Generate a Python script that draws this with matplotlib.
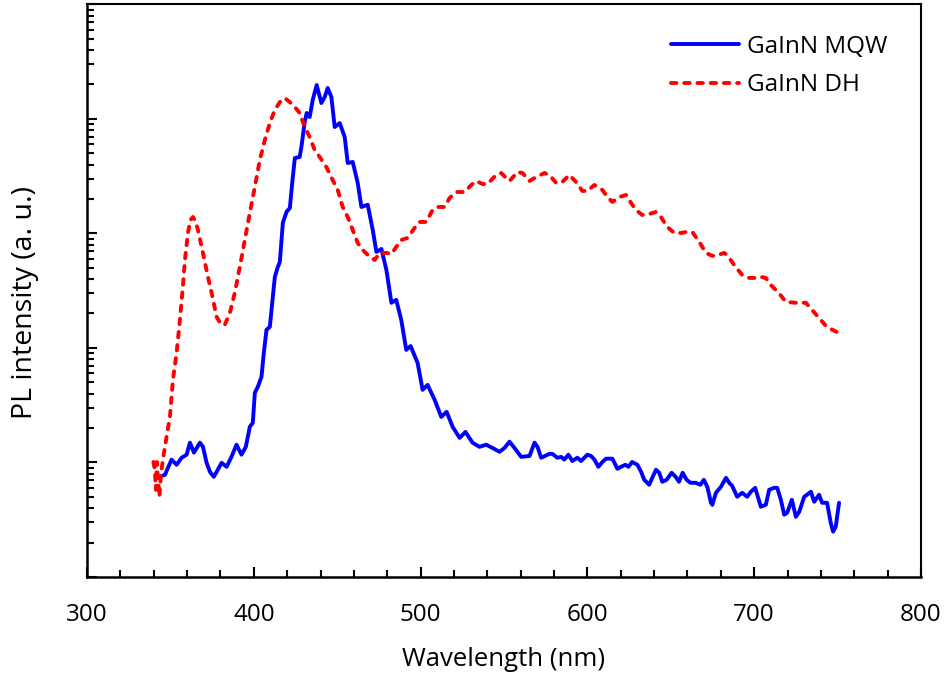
import numpy as np
import matplotlib
matplotlib.use("Agg")
import matplotlib.pyplot as plt
from matplotlib.ticker import LogLocator, MultipleLocator, NullFormatter

plt.rcParams['font.family'] = ['Open Sans', 'DejaVu Sans']

# GaInN MQW photoluminescence spectrum (wavelength in nm, intensity in a. u.)
mqw_wl = [344.1, 346.7, 350.7, 353.7, 356.7, 359.7, 361.7, 364.1, 367.7, 369.5,
          371.7, 373.7, 376.0, 378.4, 380.7, 383.7, 386.6, 389.6, 392.6, 395.2,
          397.6, 399.4, 400.6, 402.4, 404.6, 406.0, 407.6, 409.6, 410.6, 412.6,
          414.4, 415.6, 417.4, 419.6, 421.6, 423.2, 424.6, 427.5, 428.7, 430.5,
          431.7, 433.5, 435.3, 437.7, 440.5, 442.5, 444.3, 446.5, 448.5, 451.5,
          454.5, 456.3, 459.3, 462.3, 464.5, 468.3, 471.3, 473.5, 476.5, 479.5,
          482.5, 485.4, 488.4, 491.4, 494.0, 498.2, 501.2, 504.2, 508.4, 512.4,
          515.6, 519.2, 523.4, 526.9, 531.1, 535.3, 539.3, 543.1, 547.3, 550.3,
          553.3, 556.3, 560.3, 565.3, 568.3, 570.1, 572.3, 577.2, 579.0, 582.0,
          584.3, 586.2, 588.6, 591.0, 594.0, 596.2, 600.0, 602.2, 604.2, 606.6,
          609.0, 611.2, 615.0, 618.0, 620.2, 622.8, 624.6, 626.8, 630.0, 632.2,
          634.1, 637.1, 638.9, 641.1, 643.1, 644.9, 647.5, 650.5, 652.9, 654.9,
          657.1, 659.5, 661.8, 664.8, 667.8, 669.8, 671.9, 674.1, 674.9, 677.1,
          680.1, 683.1, 685.0, 686.8, 689.8, 692.8, 695.8, 698.0, 700.6, 704.0,
          707.0, 709.0, 712.0, 713.8, 716.0, 718.0, 719.8, 722.6, 725.0, 727.0,
          730.0, 731.7, 734.0, 736.0, 738.9, 740.7, 743.7, 745.9, 747.3, 748.9,
          750.9]
mqw_int = [7.55, 7.81, 10.6, 9.55, 11.0, 11.7, 14.9, 12.2, 14.9, 13.7,
           9.94, 8.29, 7.50, 8.64, 9.94, 9.17, 11.2, 14.3, 11.7, 13.7,
           20.5, 22.2, 40.6, 45.8, 56.0, 90.6, 144, 153, 215, 417,
           510, 564, 1236, 1540, 1668, 2930, 4560, 4650, 5920, 9400,
           11270, 10400, 14620, 19770, 13770, 15520, 18620, 15520, 8500, 9200,
           6950, 4120, 4210, 2760, 1703, 1780, 1074, 690, 732, 480,
           248, 263, 176, 96.2, 104, 74.1, 43.1, 47.6, 35.3, 25.0,
           27.7, 20.5, 16.4, 18.5, 14.9, 13.7, 14.3, 13.4, 12.4, 13.4,
           15.2, 13.4, 11.2, 11.4, 14.9, 13.7, 11.0, 11.9, 11.9, 11.0,
           11.2, 10.6, 11.7, 10.3, 11.0, 10.3, 11.7, 11.4, 10.6, 9.17,
           10.1, 10.8, 10.8, 8.81, 9.17, 9.55, 9.17, 10.1, 9.55, 8.29,
           7.06, 6.39, 7.35, 8.64, 8.13, 6.79, 7.06, 8.13, 7.50, 6.79,
           8.13, 7.06, 6.65, 6.65, 6.39, 7.06, 6.14, 4.45, 4.27, 5.44,
           6.14, 7.35, 6.65, 6.26, 5.02, 5.44, 5.02, 5.55, 6.01, 4.11,
           4.27, 5.78, 6.01, 6.01, 4.73, 3.50, 3.64, 4.73, 3.36, 3.71,
           5.02, 5.23, 5.55, 4.54, 5.23, 4.45, 4.45, 2.98, 2.49, 2.75,
           4.45]

# GaInN DH photoluminescence spectrum
dh_wl = [339.8, 340.7, 341.3, 341.9, 342.5, 343.4, 344.3, 345.5, 347.7, 349.7,
         351.5, 353.7, 355.7, 357.3, 358.7, 360.5, 362.0, 363.5, 365.0, 366.5,
         369.5, 372.5, 374.7, 377.7, 380.2, 382.6, 385.6, 388.6, 391.6, 394.6,
         397.6, 400.6, 403.6, 406.6, 409.6, 412.6, 415.6, 418.6, 421.6, 424.6,
         427.5, 430.5, 433.5, 436.5, 439.5, 443.5, 447.3, 450.3, 453.3, 456.3,
         459.3, 462.3, 465.3, 469.5, 472.5, 475.4, 479.5, 482.5, 485.4, 488.4,
         492.2, 496.4, 499.4, 503.4, 507.2, 510.2, 514.4, 517.4, 521.4, 526.3,
         530.4, 533.4, 537.1, 540.1, 545.3, 548.3, 553.3, 558.1, 561.1, 565.3,
         569.3, 574.3, 577.2, 581.3, 585.0, 589.2, 593.2, 597.0, 600.0, 604.2,
         609.0, 612.0, 615.0, 619.2, 623.2, 626.2, 629.2, 632.9, 637.1, 641.1,
         644.1, 647.9, 652.1, 656.1, 659.3, 662.9, 667.1, 671.1, 674.9, 678.4,
         682.0, 683.8, 688.0, 692.8, 697.0, 701.0, 704.0, 707.0, 710.0, 714.7,
         719.0, 725.0, 731.0, 734.7, 738.9, 743.5, 749.5]
dh_int = [10.1, 8.64, 5.78, 10.1, 7.06, 5.02, 7.81, 10.6, 16.8, 25.0,
          52.7, 90.6, 176, 321, 587, 1010, 1312, 1393, 1285, 1074,
          676, 417, 303, 187, 162, 159, 202, 303, 510, 877,
          1510, 2545, 4380, 6545, 9200, 11970, 14030, 15210, 14030, 12700,
          11270, 8500, 6950, 5350, 4650, 3800, 2930, 2400, 1703, 1393,
          1074, 826, 718, 624, 587, 676, 676, 662, 762, 877,
          914, 1117, 1260, 1260, 1603, 1703, 1703, 2040, 2300, 2300,
          2650, 2870, 2704, 2704, 3240, 3370, 2870, 3440, 3370, 2870,
          3110, 3370, 3240, 2760, 2815, 3240, 2815, 2350, 2350, 2650,
          2400, 2080, 1884, 2080, 2168, 1845, 1603, 1450, 1480, 1540,
          1393, 1140, 1010, 1010, 1030, 1030, 843, 676, 637, 649,
          676, 649, 531, 434, 409, 409, 417, 409, 355, 303,
          253, 248, 248, 215, 183, 153, 138]

x_ticks = [300, 400, 500, 600, 700, 800]

fig = plt.figure(figsize=(9.47, 6.79), dpi=100)
ax = fig.add_axes([0.0919, 0.1502, 0.8806, 0.8433])

ax.plot(mqw_wl, mqw_int, color='#0000ff', lw=2.8, solid_joinstyle='round',
        solid_capstyle='round', label='GaInN MQW')
ax.plot(dh_wl, dh_int, color='#ff0000', lw=2.8, ls=(0, (1.4, 2.0)),
        dash_capstyle='round', dash_joinstyle='round', label='GaInN DH')

ax.set_yscale('log')
ax.set_ylim(1, 1e5)
ax.set_xlim(300, 800)
ax.set_xticks(x_ticks)
ax.xaxis.set_minor_locator(MultipleLocator(20))
ax.yaxis.set_major_locator(LogLocator(base=10, numticks=10))
ax.yaxis.set_minor_locator(LogLocator(base=10, subs=np.arange(2, 10), numticks=20))
ax.yaxis.set_major_formatter(NullFormatter())
ax.yaxis.set_minor_formatter(NullFormatter())

for side in ['left', 'bottom']:
    ax.spines[side].set_linewidth(1.8)
for side in ['top', 'right']:
    ax.spines[side].set_linewidth(1.5)

ax.tick_params(which='both', direction='in', top=False, right=False,
               width=1.5, labelsize=17.5, pad=18.5)
ax.tick_params(which='major', length=7.5)
ax.tick_params(which='minor', length=5)

ax.set_xlabel('Wavelength (nm)', fontsize=18.5)
ax.set_ylabel('PL intensity (a. u.)', fontsize=20.5)
ax.xaxis.set_label_coords(0.5, -0.123)
ax.yaxis.set_label_coords(-0.058, 0.479)

ax.legend(loc='upper right', bbox_to_anchor=(0.986, 0.985), frameon=False,
          fontsize=17.5, handlelength=2.8, handletextpad=0.33, labelspacing=0.6)

fig.savefig('out.png', dpi=100)
